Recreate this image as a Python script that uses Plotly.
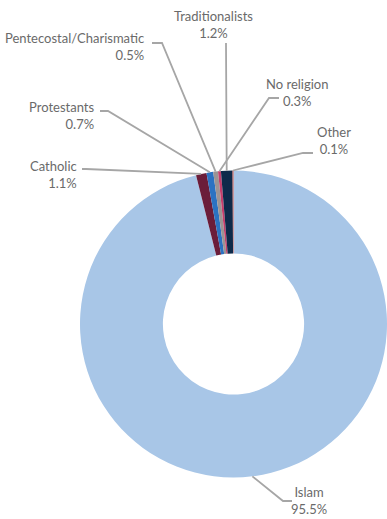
import math
import plotly.graph_objects as go

# Religious affiliation shares (%)
labels = ["Islam", "Catholic", "Protestants", "Pentecostal/Charismatic",
          "No religion", "Traditionalists", "Other"]
values = [95.5, 1.1, 0.7, 0.5, 0.3, 1.2, 0.1]
value_text = ["95.5%", "1.1%", "0.7%", "0.5%", "0.3%", "1.2%", "0.1%"]
colors = ["#A8C6E7", "#6B1D3A", "#2B72C2", "#9C9494", "#C43D6B", "#0E2A4A", "#C0504D"]

W, H = 387, 519
dom_x = [80 / W, 1.0]
dom_y = [(H - 478) / H, (H - 170) / H]
hole = 0.46

fig = go.Figure(go.Pie(
    labels=labels, values=values, sort=False,
    direction="clockwise", rotation=0, hole=hole,
    marker=dict(colors=colors, line=dict(width=0)),
    textinfo="none", hoverinfo="label+percent",
    domain=dict(x=dom_x, y=dom_y), showlegend=False,
))

# pie geometry in pixels (same rule plotly uses: radius from the smaller side)
cx = (dom_x[0] + dom_x[1]) / 2 * W
cy = H * (1 - (dom_y[0] + dom_y[1]) / 2)
R = min(W * (dom_x[1] - dom_x[0]), H * (dom_y[1] - dom_y[0])) / 2

total = sum(values)
edge_pts = []
cum = 0.0
for v in values:
    mid = (cum + v / 2) / total * 2 * math.pi  # clockwise from 12 o'clock
    edge_pts.append((cx + R * math.sin(mid), cy - R * math.cos(mid)))
    cum += v

def px(x, y):
    return x / W, 1 - y / H

# label placement: (text anchor x, y, xanchor/align, leader start, leader elbow)
label_layout = {
    "Islam": (309, 500, "center", (292, 501), (283, 501)),
    "Catholic": (78, 175, "right", (82, 169), (86, 169)),
    "Protestants": (95, 115, "right", (100, 111), (108, 111)),
    "Pentecostal/Charismatic": (145, 46, "right", (152, 43), (162, 43)),
    "No religion": (297, 92, "center", (279, 98), (269, 98)),
    "Traditionalists": (213, 25, "center", (226, 43), (226, 44)),
    "Other": (334, 140, "center", (313, 153), (303, 153)),
}

text_color = "#6A6A6A"
line_color = "#A6A6A6"
font = dict(family="Lato, 'Open Sans', sans-serif", size=13, color=text_color)

annotations = []
shapes = []
for i, name in enumerate(labels):
    tx0, ty0, anchor, (sx, sy), (ex, ey) = label_layout[name]
    ax, ay = px(tx0, ty0)
    annotations.append(dict(
        x=ax, y=ay, xref="paper", yref="paper",
        text=f"{name}<br>{value_text[i]}", align=anchor,
        showarrow=False, xanchor=anchor, yanchor="middle", font=font,
        borderpad=0,
    ))
    tx, ty = edge_pts[i]
    p0, p1, p2 = px(sx, sy), px(ex, ey), px(tx, ty)
    shapes.append(dict(
        type="path", xref="paper", yref="paper",
        path=f"M {p0[0]},{p0[1]} L {p1[0]},{p1[1]} L {p2[0]},{p2[1]}",
        line=dict(color=line_color, width=1.8),
    ))

fig.update_layout(
    width=W, height=H, margin=dict(l=0, r=0, t=0, b=0),
    paper_bgcolor="white", plot_bgcolor="white",
    annotations=annotations, shapes=shapes,
)

fig.write_html("out.html")
